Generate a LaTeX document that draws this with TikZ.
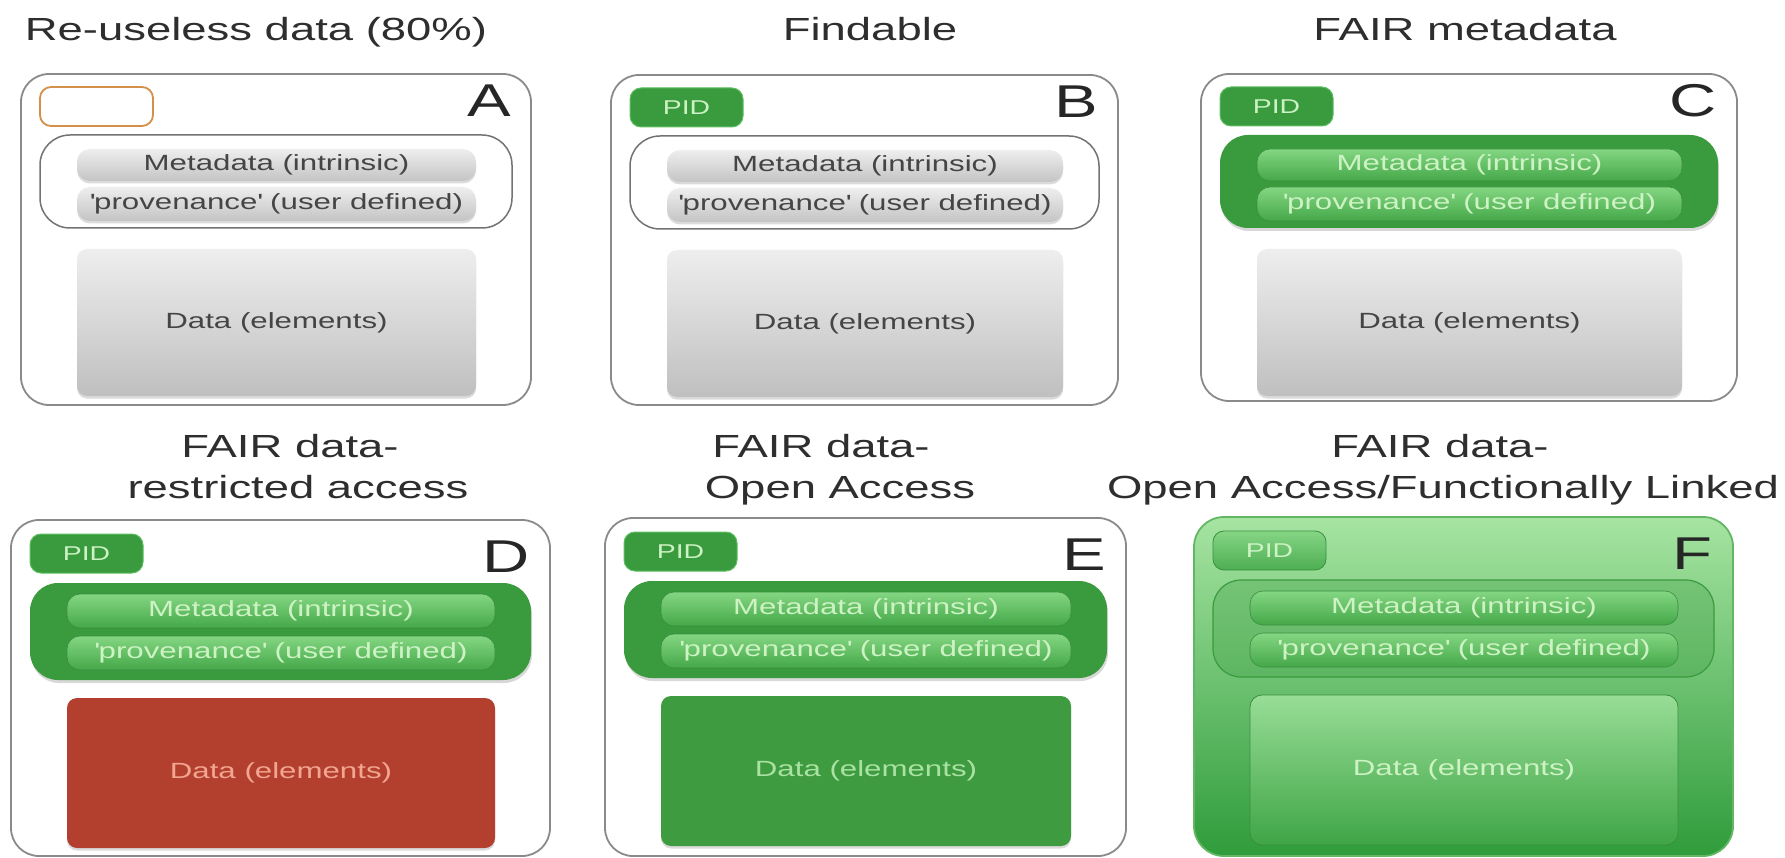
\documentclass[tikz,border=0pt]{standalone}
\usepackage{fontspec}
\setmainfont[FakeStretch=1.42]{Liberation Sans}
\usetikzlibrary{shadows}
\definecolor{frame}{HTML}{8A8A8A}
\definecolor{ttl}{HTML}{2E2E2E}
\definecolor{greyT}{HTML}{EEEEEE}
\definecolor{greyB}{HTML}{C4C4C4}
\definecolor{greytext}{HTML}{454545}
\definecolor{gdark}{HTML}{3A9A3E}
\definecolor{gglow}{HTML}{5CBF60}
\definecolor{gbarT}{HTML}{84D682}
\definecolor{gbarB}{HTML}{45A849}
\definecolor{gbarline}{HTML}{3A8F3E}
\definecolor{gtext}{HTML}{CDF2C4}
\definecolor{dred}{HTML}{B3402E}
\definecolor{redtext}{HTML}{F2A590}
\definecolor{gdata}{HTML}{3E9B40}
\definecolor{gdatatext}{HTML}{A9E2A2}
\definecolor{orangeb}{HTML}{D4904A}
\definecolor{fT}{HTML}{A6E4A2}
\definecolor{fB}{HTML}{2F9C3B}
\definecolor{fline}{HTML}{62B664}
\definecolor{fdT}{HTML}{98DD96}
\definecolor{fdB}{HTML}{3FA546}
\definecolor{fpT}{HTML}{86D585}
\definecolor{fpB}{HTML}{4DAE52}
\tikzset{
  pbox/.style={inner sep=0pt, outer sep=0pt, anchor=north west, align=center},
  ttlstyle/.style={inner sep=0pt, anchor=base, text=ttl, font=\fontsize{32}{38}\selectfont},
  panelletter/.style={inner sep=0pt, anchor=base east, text=black!85, font=\fontsize{46}{50}\selectfont},
  bodyfont/.style={font=\fontsize{22}{26}\selectfont},
  pidfont/.style={font=\fontsize{20}{24}\selectfont},
  bshadow/.style={drop shadow={opacity=0.28, shadow xshift=0pt, shadow yshift=-2.5pt}},
  outerbox/.style={pbox, draw=frame, line width=1.8pt, rounded corners=28pt, fill=white},
  fouterbox/.style={pbox, draw=fline, line width=1.8pt, rounded corners=30pt, top color=fT, bottom color=fB},
  pidempty/.style={pbox, draw=orangeb, line width=1.8pt, rounded corners=11pt, fill=white},
  pidgreen/.style={pbox, pidfont, fill=gdark, draw=gglow, line width=1pt, rounded corners=11pt, text=gtext},
  pidf/.style={pbox, pidfont, top color=fpT, bottom color=fpB, draw=gbarline, line width=0.8pt, rounded corners=11pt, text=gtext},
  groupline/.style={pbox, draw=black!55, line width=1.5pt, rounded corners=30pt},
  groupgreen/.style={pbox, fill=gdark, rounded corners=28pt, drop shadow={opacity=0.3, shadow xshift=1pt, shadow yshift=-3pt}},
  groupf/.style={pbox, fill=gdark, fill opacity=0.3, draw=gdark, line width=1.2pt, rounded corners=28pt},
  bargrey/.style={pbox, bodyfont, top color=greyT, bottom color=greyB, rounded corners=13pt, text=greytext, bshadow},
  bargreen/.style={pbox, bodyfont, top color=gbarT, bottom color=gbarB, draw=gbarline, line width=0.6pt, rounded corners=13pt, text=gtext},
  datagrey/.style={pbox, bodyfont, top color=greyT, bottom color=black!25, rounded corners=10pt, text=greytext, bshadow},
  datared/.style={pbox, bodyfont, fill=dred, rounded corners=10pt, text=redtext, bshadow},
  datagreen/.style={pbox, bodyfont, fill=gdata, rounded corners=10pt, text=gdatatext, bshadow},
  dataf/.style={pbox, bodyfont, top color=fdT, bottom color=fdB, draw=gbarline, line width=0.8pt, rounded corners=12pt, text=gtext},
  themeA/.style={cur outer/.style={outerbox}, cur pid/.style={pidempty}, cur group/.style={groupline}, cur bar/.style={bargrey}, cur data/.style={datagrey}},
  themeB/.style={cur outer/.style={outerbox}, cur pid/.style={pidgreen}, cur group/.style={groupline}, cur bar/.style={bargrey}, cur data/.style={datagrey}},
  themeC/.style={cur outer/.style={outerbox}, cur pid/.style={pidgreen}, cur group/.style={groupgreen}, cur bar/.style={bargreen}, cur data/.style={datagrey}},
  themeD/.style={cur outer/.style={outerbox}, cur pid/.style={pidgreen}, cur group/.style={groupgreen}, cur bar/.style={bargreen}, cur data/.style={datared}},
  themeE/.style={cur outer/.style={outerbox}, cur pid/.style={pidgreen}, cur group/.style={groupgreen}, cur bar/.style={bargreen}, cur data/.style={datagreen}},
  themeF/.style={cur outer/.style={fouterbox}, cur pid/.style={pidf}, cur group/.style={groupf}, cur bar/.style={bargreen}, cur data/.style={dataf}},
}
% #1 name, #2 left, #3 top, #4 right, #5 bottom, #6 letter, #7 row, #8 PID text
\newcommand\fairpanel[8]{%
  \ifnum#7=1
    \def\yP{13}\def\hP{39}\def\yG{61}\def\hG{93}\def\yM{75}\def\hM{32}\def\yV{113}\def\hV{34}\def\yD{175}\def\hD{147}\def\yL{43}%
  \else
    \def\yP{14}\def\hP{39}\def\yG{63}\def\hG{97}\def\yM{74}\def\hM{34}\def\yV{116}\def\hV{34}\def\yD{178}\def\hD{150}\def\yL{52}%
  \fi
  \node[cur outer, minimum width={#4-#2}, minimum height={#5-#3}] (#1) at (#2,#3) {};
  \node[cur pid, minimum width=113, minimum height=\hP] (#1pid) at ({#2+19},{#3+\yP}) {#8};
  \node[cur group, minimum width={#4-#2-38}, minimum height=\hG] (#1grp) at ({#2+19},{#3+\yG}) {};
  \node[cur bar, minimum width={#4-#2-111}, minimum height=\hM] (#1meta) at ({#2+56},{#3+\yM}) {Metadata (intrinsic)};
  \node[cur bar, minimum width={#4-#2-111}, minimum height=\hV] (#1prov) at ({#2+56},{#3+\yV}) {\textquotesingle provenance\textquotesingle\ (user defined)};
  \node[cur data, minimum width={#4-#2-111}, minimum height=\hD] (#1data) at ({#2+56},{#3+\yD}) {Data (elements)};
  \node[panelletter] (#1let) at ({#4-20},{#3+\yL}) {#6};
}
\begin{document}
\begin{tikzpicture}[x=1pt,y=-1pt]
\useasboundingbox[fill=white] (0,0) rectangle (1785,858);
% titles
\node[ttlstyle] (tA) at (256,41) {Re-useless data (80\%)};
\node[ttlstyle] (tB) at (870,41) {Findable};
\node[ttlstyle] (tC) at (1465,41) {FAIR metadata};
\node[ttlstyle] (tD1) at (290,457) {FAIR data-};
\node[ttlstyle] (tD2) at (298,498) {restricted access};
\node[ttlstyle] (tE1) at (821,457) {FAIR data-};
\node[ttlstyle] (tE2) at (840,498) {Open Access};
\node[ttlstyle] (tF1) at (1440,457) {FAIR data-};
\node[ttlstyle] (tF2) at (1443,498) {Open Access/Functionally Linked};
% panels
\begin{scope}[themeA]\fairpanel{A}{21}{74}{531}{405}{A}{1}{}\end{scope}
\begin{scope}[themeB]\fairpanel{B}{611}{75}{1118}{405}{B}{1}{PID}\end{scope}
\begin{scope}[themeC]\fairpanel{C}{1201}{74}{1737}{401}{C}{1}{PID}\end{scope}
\begin{scope}[themeD]\fairpanel{D}{11}{520}{550}{856}{D}{2}{PID}\end{scope}
\begin{scope}[themeE]\fairpanel{E}{605}{518}{1126}{856}{E}{2}{PID}\end{scope}
\begin{scope}[themeF]\fairpanel{F}{1194}{517}{1733}{856}{F}{2}{PID}\end{scope}
\end{tikzpicture}
\end{document}
